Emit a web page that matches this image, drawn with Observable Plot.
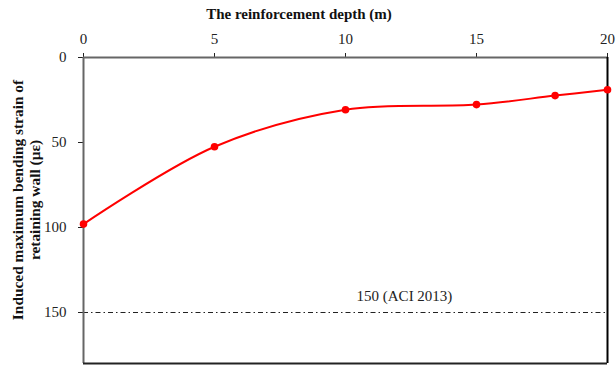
<!DOCTYPE html>
<html>
<head>
<meta charset="utf-8">
<script src="https://cdn.jsdelivr.net/npm/d3@7"></script>
<script src="https://cdn.jsdelivr.net/npm/@observablehq/plot@0.6"></script>
<style>
  html, body { margin: 0; padding: 0; background: #fff; }
  #chart svg { display: block; }
</style>
</head>
<body>
<div id="chart"></div>
<script>
// Reinforcement depth (m) and induced maximum bending strain (με)
const depth = [0, 5, 10, 15, 18, 20];
const strain = [98, 52.5, 30.7, 27.7, 22.4, 19];
const xTicks = [0, 5, 10, 15, 20];
const yTicks = [0, 50, 100, 150];
const aciLimit = 150;
const aciLabel = "150 (ACI 2013)";
const xTitle = "The reinforcement depth (m)";
const yTitleLines = ["Induced maximum bending strain of", "retaining wall (με)"];

const data = depth.map((d, i) => ({depth: d, strain: strain[i]}));
const font = "'Liberation Serif', 'Times New Roman', serif";

const W = 616, H = 365;
const plot = Plot.plot({
  width: W,
  height: H,
  marginTop: 57,
  marginLeft: 83,
  marginRight: 9,
  marginBottom: 2,
  style: {fontFamily: font, fontSize: "15px", color: "#222", background: "#fff"},
  x: {domain: [0, 20]},
  y: {domain: [0, 180], reverse: true},
  marks: [
    Plot.axisX({anchor: "top", ticks: xTicks, tickSize: 5, tickPadding: 9, label: null, fontSize: 15}),
    Plot.axisY({anchor: "left", ticks: yTicks, tickSize: 5, tickPadding: 12, label: null, fontSize: 15}),
    Plot.ruleY([aciLimit], {stroke: "#222", strokeWidth: 1, strokeDasharray: "5,3,1.5,3"}),
    Plot.text([aciLimit], {x: 12.25, y: d => d, text: () => aciLabel, dy: -16, fontSize: 15, fill: "#222"}),
    Plot.ruleX([0], {stroke: "#666", strokeWidth: 2}),
    Plot.ruleY([0], {stroke: "#666", strokeWidth: 2}),
    Plot.ruleX([20], {stroke: "#000", strokeWidth: 2}),
    Plot.ruleY([180], {stroke: "#222", strokeWidth: 2}),
    Plot.line(data, {x: "depth", y: "strain", stroke: "#ff0000", strokeWidth: 2, curve: "catmull-rom"}),
    Plot.dot(data, {x: "depth", y: "strain", fill: "#ff0000", r: 3.8})
  ]
});

document.getElementById("chart").appendChild(plot);

// Axis titles
const svg = d3.select(plot);
svg.append("text")
  .attr("x", 299).attr("y", 19)
  .attr("text-anchor", "middle")
  .attr("font-family", font).attr("font-size", 15).attr("font-weight", "bold")
  .attr("fill", "#111")
  .text(xTitle);

const yt = svg.append("text")
  .attr("transform", "translate(23,200) rotate(-90)")
  .attr("text-anchor", "middle")
  .attr("font-family", font).attr("font-size", 15.4).attr("font-weight", "bold")
  .attr("fill", "#111");
yTitleLines.forEach((line, i) => {
  yt.append("tspan").attr("x", 0).attr("dy", i === 0 ? 0 : 17).text(line);
});
</script>
</body>
</html>
